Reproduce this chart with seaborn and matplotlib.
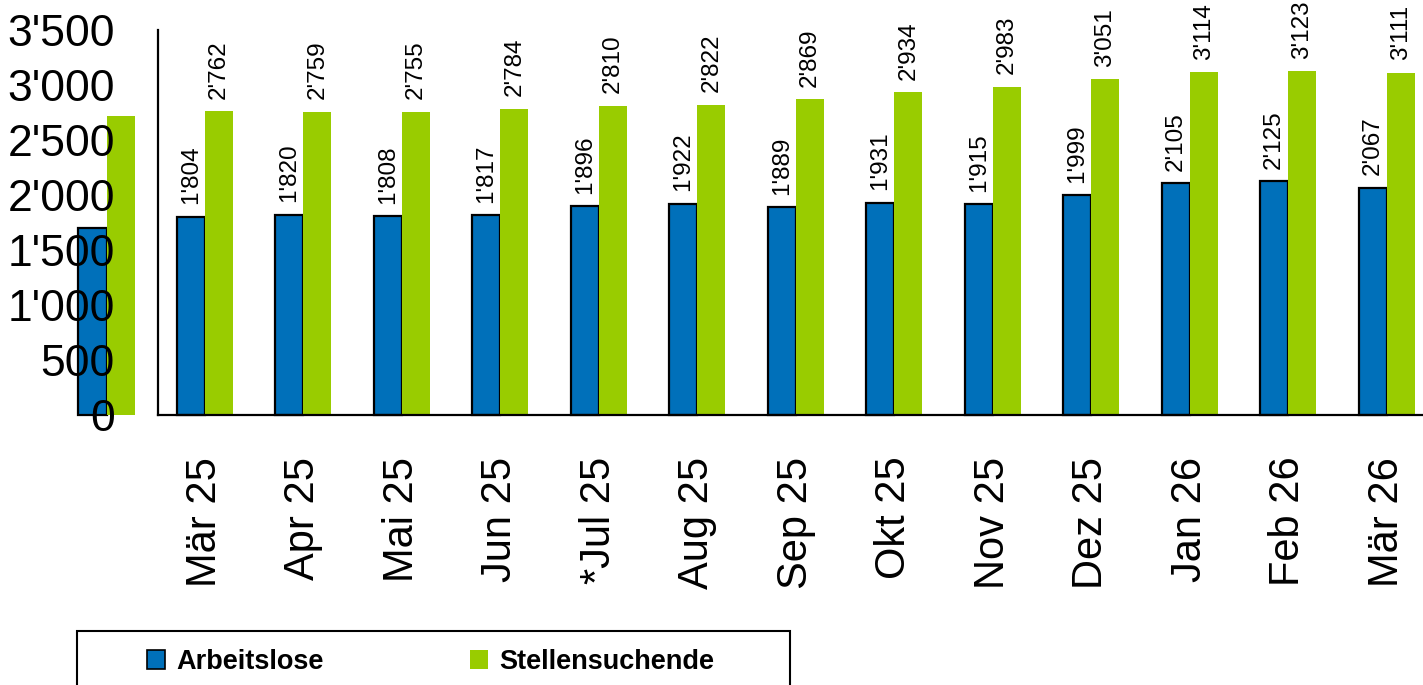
import numpy as np
import matplotlib
matplotlib.use("Agg")
import matplotlib.pyplot as plt
import matplotlib.patches as mpatches
import pandas as pd
import seaborn as sns

# data (first month sits outside the visible axis range, as in the original)
months = ["Feb 25", "Mär 25", "Apr 25", "Mai 25", "Jun 25", "*Jul 25", "Aug 25",
          "Sep 25", "Okt 25", "Nov 25", "Dez 25", "Jan 26", "Feb 26", "Mär 26"]
arbeitslose = [1703, 1804, 1820, 1808, 1817, 1896, 1922, 1889, 1931, 1915, 1999, 2105, 2125, 2067]
stellensuchende = [2718, 2762, 2759, 2755, 2784, 2810, 2822, 2869, 2934, 2983, 3051, 3114, 3123, 3111]
series = ["Arbeitslose", "Stellensuchende"]
yticks = [0, 500, 1000, 1500, 2000, 2500, 3000, 3500]

colors = {"Arbeitslose": "#0070BA", "Stellensuchende": "#99CC00"}


def fmt(v):
    return f"{v:,}".replace(",", "'")


df = pd.DataFrame({
    "month": months * 2,
    "series": [series[0]] * len(months) + [series[1]] * len(months),
    "value": arbeitslose + stellensuchende,
})

sns.set_theme(style="white")
plt.rcParams["font.family"] = ["Liberation Sans", "DejaVu Sans"]
plt.rcParams["text.color"] = "black"
plt.rcParams["xtick.color"] = "black"
plt.rcParams["ytick.color"] = "black"

fig = plt.figure(figsize=(14.23, 6.85), dpi=100)
ax = fig.add_axes([158 / 1423, 1 - 415 / 685, (1423 - 158) / 1423, (415 - 30) / 685])

sns.barplot(data=df, x="month", y="value", hue="series", order=months,
            hue_order=series, palette=colors, width=0.57, saturation=1,
            ax=ax, legend=False)

# styling of bars: blue with black outline, no clipping
for i, cont in enumerate(ax.containers):
    for bar in cont:
        bar.set_clip_on(False)
        if i == 0:
            bar.set_edgecolor("black")
            bar.set_linewidth(1.6)
        else:
            bar.set_linewidth(0)
    vals = arbeitslose if i == 0 else stellensuchende
    labels = [""] + [fmt(v) for v in vals[1:]]
    ax.bar_label(cont, labels=labels, rotation=90, padding=9, fontsize=17.5, color="black")

# tick labels are drawn on top of the bars
ax.set_axisbelow(False)
ax.set_xlim(0.523, 13.37)
ax.set_ylim(0, 3500)
ax.set_yticks(yticks)
ax.set_yticklabels([fmt(v) for v in yticks])
ax.tick_params(axis="y", length=0, pad=31, labelsize=32, labelcolor="black")
ax.tick_params(axis="x", length=0, pad=30, labelsize=30, rotation=90, labelcolor="black")
ax.set_xlabel("")
ax.set_ylabel("")
for s in ["top", "right"]:
    ax.spines[s].set_visible(False)
for s in ["left", "bottom"]:
    ax.spines[s].set_color("black")
    ax.spines[s].set_linewidth(1.6)

# legend with a box that runs off the bottom of the figure
handles = [mpatches.Patch(facecolor=colors["Arbeitslose"], edgecolor="black", linewidth=1.2),
           mpatches.Patch(facecolor=colors["Stellensuchende"], edgecolor="none")]
fig.legend(handles, series, loc="center left", bbox_to_anchor=(147 / 1423, 1 - 662 / 685),
           ncol=2, frameon=False, borderpad=0, borderaxespad=0,
           handlelength=0.68, handleheight=0.68, handletextpad=0.4, columnspacing=5.4,
           prop={"weight": "bold", "size": 19.5})
box = mpatches.Rectangle((77 / 1423, -0.05), (790 - 77) / 1423, 0.05 + 1 - 631 / 685,
                         transform=fig.transFigure, fill=False, edgecolor="black",
                         linewidth=1.5, clip_on=False)
fig.add_artist(box)

fig.savefig("out.png", dpi=100)
